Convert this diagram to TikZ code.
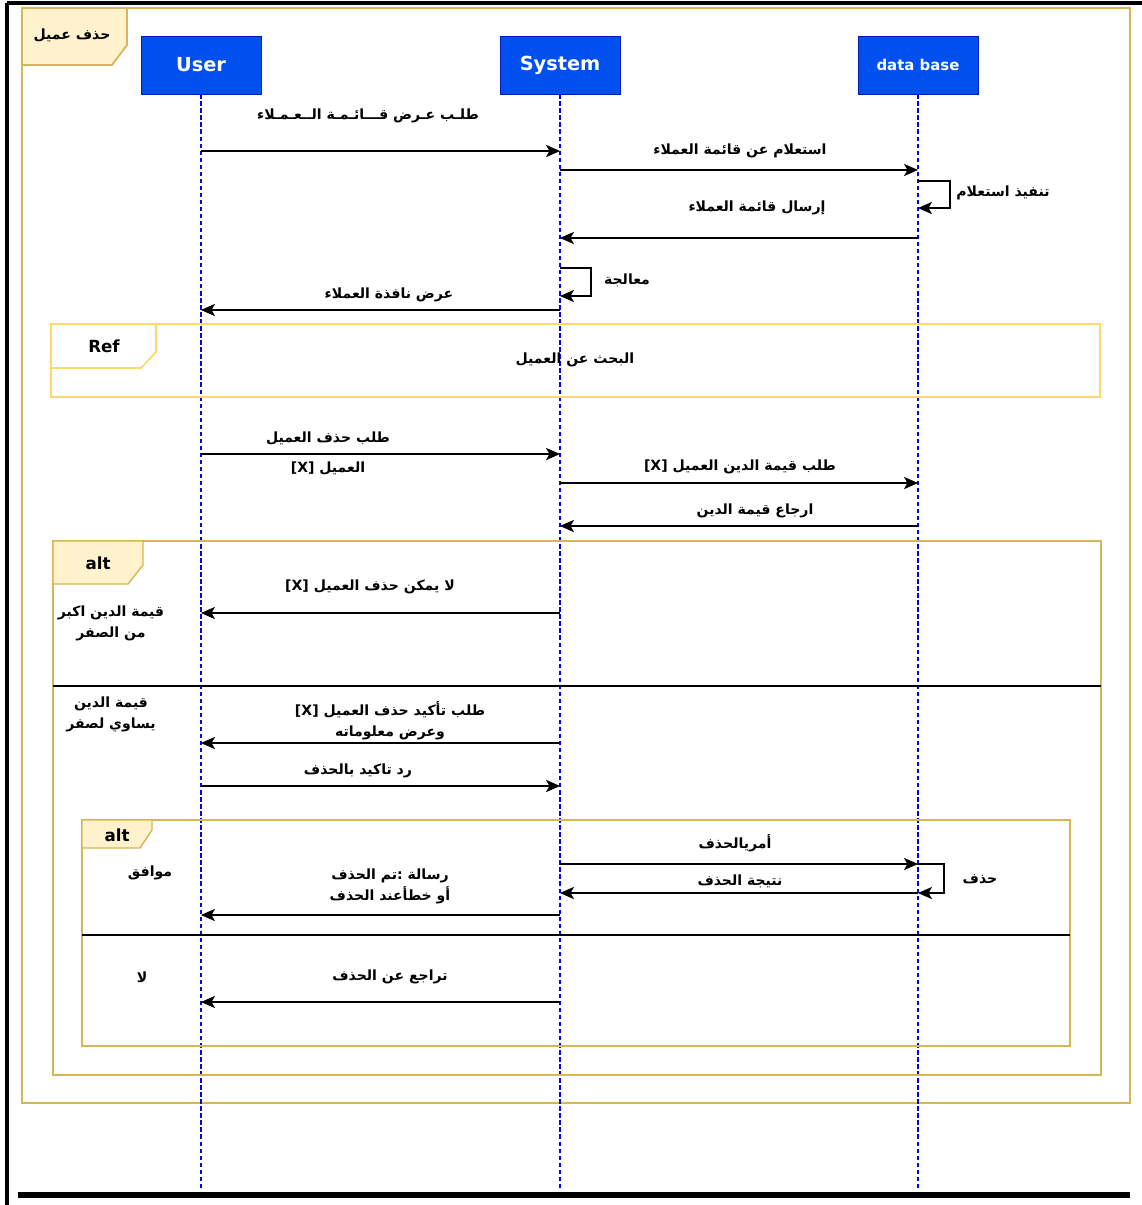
\documentclass[tikz,border=0pt]{standalone}
\usepackage{fontspec}
\setmainfont{DejaVu Sans}
\newfontfamily\arabicfont[Script=Arabic]{DejaVu Sans}
\TeXXeTstate=1
\usetikzlibrary{arrows.meta}
\definecolor{headblue}{HTML}{0050EF}
\definecolor{headedge}{HTML}{001DBC}
\definecolor{framegold}{HTML}{D6B656}
\definecolor{paleyellow}{HTML}{FFF2CC}
\definecolor{lightgold}{HTML}{FFD966}
\newcommand{\artxt}[1]{{\arabicfont\bfseries\beginR #1\endR}}
\begin{document}
\begin{tikzpicture}[x=0.02cm,y=-0.02cm,
    head/.style={draw=headedge,fill=headblue,text=white,font=\bfseries\fontsize{11}{12}\selectfont,
        minimum width=2.4cm,minimum height=1.16cm,inner sep=0pt},
    life/.style={blue,dash pattern=on 2.5pt off 1.5pt,line width=0.6pt},
    msg/.style={-{Stealth[length=8pt,width=7pt,inset=2pt]},line width=0.7pt},
    lbl/.style={font=\fontsize{8}{10}\selectfont,inner sep=1pt},
    guard/.style={font=\fontsize{8}{12}\selectfont,align=center,inner sep=1pt},
    tag/.style={font=\bfseries\fontsize{9.5}{11}\selectfont}]
    \useasboundingbox (0,0) rectangle (1142,1205);
    %外框
    \draw[line width=2.5pt](7,3)--(1142,3);
    \draw[line width=2pt](7,3)--(7,1205);
    \draw[line width=3pt](18,1195)--(1130,1195);
    %总框
    \draw[framegold,line width=1pt](22,8) rectangle (1130,1103);
    \draw[framegold,fill=paleyellow,line width=1pt](22,8)--(127,8)--(127,45)--(112,65)--(22,65)--cycle;
    \node[lbl] (title) at (72,35){\artxt{حذف عميل}};
    %生命线
    \node[head] (user) at (201,65){User};
    \node[head] (system) at (560,65){System};
    \node[head,font=\bfseries\fontsize{8.5}{10}\selectfont] (db) at (918,65){data base};
    \coordinate (userend) at (201,1190);
    \coordinate (systemend) at (560,1190);
    \coordinate (dbend) at (918,1190);
    \draw[life](user.south)--(userend);
    \draw[life](system.south)--(systemend);
    \draw[life](db.south)--(dbend);
    %消息的端点
    \foreach \n/\y in {1/151,2/170,3/181,4/208,5/238,6/268,7/296,8/310,9/454,10/483,11/526,
        12/613,13/743,14/786,15/864,16/893,17/915,18/1002}{
        \coordinate (u\n) at (201,\y);
        \coordinate (s\n) at (560,\y);
        \coordinate (d\n) at (918,\y);
    }
    %显示客户列表
    \draw[msg](u1)--(s1);
    \node[lbl] (m1) at (368,116){\artxt{طلـب  عـرض  قـــائـمـة   الــعـمـلاء}};
    \draw[msg](s2)--(d2);
    \node[lbl] (m2) at (740,151){\artxt{استعلام عن قائمة العملاء}};
    \draw[msg](d3)--++(32,0)--++(0,27)--(d4);
    \node[lbl] (m3) at (1003,193){\artxt{تنفيذ استعلام}};
    \draw[msg](d5)--(s5);
    \node[lbl] (m4) at (757,208){\artxt{إرسال قائمة العملاء}};
    \draw[msg](s6)--++(31,0)--++(0,28)--(s7);
    \node[lbl] (m5) at (627,280){\artxt{معالجة}};
    \draw[msg](s8)--(u8);
    \node[lbl] (m6) at (389,295){\artxt{عرض نافذة العملاء}};
    %Ref
    \draw[lightgold,line width=1pt](51,324) rectangle (1100,397);
    \draw[lightgold,fill=white,line width=1pt](51,324)--(156,324)--(156,352)--(141,368)--(51,368)--cycle;
    \node[tag] (ref) at (104,346){Ref};
    \node[lbl] (search) at (575,360){\artxt{البحث عن العميل}};
    %删除请求
    \draw[msg](u9)--(s9);
    \node[lbl] (m7) at (328,438){\artxt{طلب حذف العميل}};
    \node[lbl] (m7b) at (328,468){\artxt{العميل \beginL[X]\endL}};
    \draw[msg](s10)--(d10);
    \node[lbl] (m8) at (740,467){\artxt{طلب  قيمة الدين العميل \beginL[X]\endL}};
    \draw[msg](d11)--(s11);
    \node[lbl] (m9) at (755,511){\artxt{ارجاع قيمة الدين}};
    %alt 1
    \draw[framegold,line width=0.8pt](53,541) rectangle (1101,1075);
    \draw[framegold,fill=paleyellow,line width=0.8pt](53,541)--(143,541)--(143,565)--(128,584)--(53,584)--cycle;
    \node[tag] (alt1) at (98,563){alt};
    \draw[line width=0.8pt](53,686)--(1101,686);
    \node[guard] (g1) at (111,623){\artxt{قيمة الدين اكبر}\\\artxt{من الصفر}};
    \draw[msg](s12)--(u12);
    \node[lbl] (m10) at (370,587){\artxt{لا يمكن حذف العميل \beginL[X]\endL}};
    \node[guard] (g2) at (111,714){\artxt{قيمة الدين}\\\artxt{يساوي لصفر}};
    \draw[msg](s13)--(u13);
    \node[guard] (m11) at (390,721){\artxt{طلب تأكيد حذف العميل \beginL[X]\endL}\\\artxt{وعرض معلوماته}};
    \draw[msg](u14)--(s14);
    \node[lbl] (m12) at (358,771){\artxt{رد تاكيد بالحذف}};
    %alt 2
    \draw[framegold,line width=0.8pt](82,820) rectangle (1070,1046);
    \draw[framegold,fill=paleyellow,line width=0.8pt](82,820)--(152,820)--(152,830)--(140,848)--(82,848)--cycle;
    \node[tag] (alt2) at (117,835){alt};
    \draw[line width=0.6pt](82,935)--(1070,935);
    \node[guard] (g3) at (150,873){\artxt{موافق}};
    \draw[msg](s15)--(d15);
    \node[lbl] (m13) at (735,843){\artxt{أمريالحذف}};
    \draw[msg](d15)--++(26,0)--++(0,29)--(d16);
    \node[lbl] (m14) at (980,879){\artxt{حذف}};
    \draw[msg](d16)--(s16);
    \node[lbl] (m15) at (740,881){\artxt{نتيجة الحذف}};
    \draw[msg](s17)--(u17);
    \node[guard] (m16) at (390,886){\artxt{رسالة :تم الحذف}\\\artxt{أو خطأعند الحذف}};
    \node[guard] (g4) at (142,977){\artxt{لا}};
    \draw[msg](s18)--(u18);
    \node[lbl] (m17) at (390,977){\artxt{تراجع عن الحذف}};
\end{tikzpicture}
\end{document}
